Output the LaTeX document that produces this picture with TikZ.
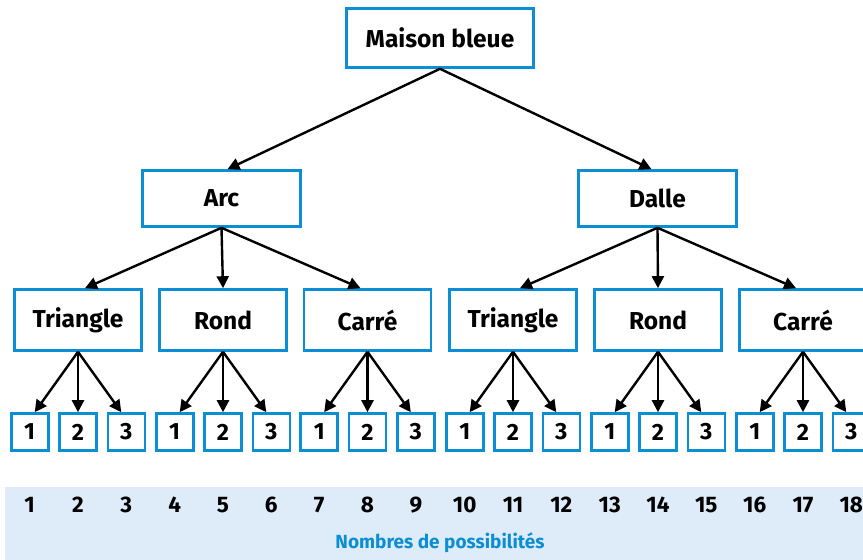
\documentclass[tikz,border=0pt]{standalone}
\usepackage{fontspec}
\setmainfont{Fira Sans}
\usetikzlibrary{arrows.meta}
\definecolor{boxblue}{HTML}{0B8ED4}
\definecolor{bandfill}{HTML}{DEEBF8}
\begin{document}
\begin{tikzpicture}[x=1pt,y=-1pt,
  box/.style={draw=boxblue, line width=2.6pt, fill=white, inner sep=0pt, font=\fontsize{24.5}{28}\selectfont\bfseries},
  leaf/.style={box, minimum width=37pt, minimum height=37pt, font=\fontsize{23.5}{26}\selectfont\bfseries},
  arr/.style={draw=black, line width=2.4pt, -{Triangle[length=12pt,width=12pt]}},
  num/.style={font=\fontsize{22.5}{26}\selectfont\bfseries},
  captionstyle/.style={font=\fontsize{19}{22}\selectfont\bfseries, text=boxblue}]
\useasboundingbox (0,0) rectangle (863,560);
\fill[bandfill] (5,487) rectangle (863,560);
\node[box, minimum width=187pt, minimum height=59pt] (root) at (440,38) {Maison bleue};
\node[box, minimum width=158pt, minimum height=56pt] (arc) at (221.5,198.5) {Arc};
\node[box, minimum width=158pt, minimum height=56pt] (dalle) at (657.5,198.5) {Dalle};
\draw[arr] (root.south) -- ([xshift=6pt]arc.north);
\draw[arr] (root.south) -- ([xshift=-6pt]dalle.north);
\foreach \i/\x/\t in {1/78/Triangle,2/223/Rond,3/367.5/Carré,4/513/Triangle,5/658/Rond,6/803/Carré}{
  \node[box, minimum width=127pt, minimum height=61pt] (m\i) at (\x,320) {\t};
  \foreach \j in {1,2,3}{
    \pgfmathtruncatemacro\n{(\i-1)*3+\j}
    \pgfmathsetmacro\lx{\x+(\j-2)*48.3}
    \node[leaf] (l\n) at (\lx,432) {\j};
    \draw[arr] (m\i.south) -- ([xshift={(2-\j)*5}]l\n.north);
    \node[num] (n\n) at (\lx,505) {\n};
  }
}
\foreach \k/\s in {1/7,2/0,3/-7}{\draw[arr] (arc.south) -- ([xshift=\s]m\k.north);}
\foreach \k/\s in {4/7,5/0,6/-7}{\draw[arr] (dalle.south) -- ([xshift=\s]m\k.north);}
\node[captionstyle] (caption) at (440,543) {Nombres de possibilités};
\end{tikzpicture}
\end{document}
